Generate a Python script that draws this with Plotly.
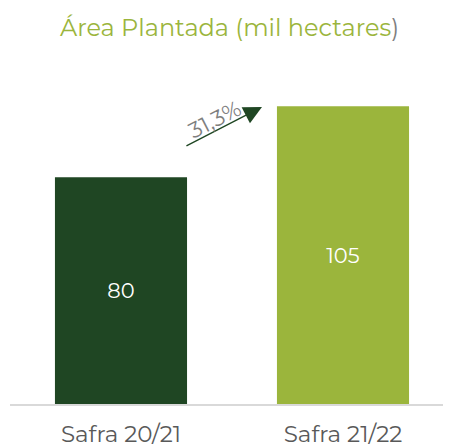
import plotly.graph_objects as go

categories = ["Safra 20/21", "Safra 21/22"]
values = [80, 105]
bar_colors = ["#1f4623", "#9bb53c"]
growth_label = "31,3%"

FONT = "Montserrat, Inter, Lato, sans-serif"

fig = go.Figure()
fig.add_trace(go.Bar(
    x=categories,
    y=values,
    marker=dict(color=bar_colors, line=dict(width=0)),
    text=[str(v) for v in values],
    textposition="inside",
    insidetextanchor="middle",
    textfont=dict(color="white", size=21, family=FONT),
    hoverinfo="skip",
))

# growth arrow between the two bars
fig.add_annotation(
    x=0.635, y=104.8, ax=0.288, ay=90.8,
    xref="x", yref="y", axref="x", ayref="y",
    text="", showarrow=True,
    arrowhead=2, arrowsize=2.6, arrowwidth=1.4, arrowcolor="#1f4623",
)
fig.add_annotation(
    x=0.425, y=100.3, xref="x", yref="y",
    text=growth_label, showarrow=False, textangle=-27,
    font=dict(color="#7f7f7f", size=22, family=FONT),
)

fig.update_layout(
    width=443, height=440,
    margin=dict(l=2, r=0, t=70, b=41),
    paper_bgcolor="white", plot_bgcolor="white",
    bargap=0.405,
    showlegend=False,
    title=dict(
        text='Área Plantada (mil hectares<span style="color:#7f7f7f">)</span>',
        x=0.5, xanchor="center", y=0.955, yanchor="middle",
        font=dict(color="#9bb53c", size=24, family=FONT),
    ),
    xaxis=dict(
        range=[-0.5, 1.4865],
        showline=True, linecolor="#d9d9d9", linewidth=2,
        showgrid=False, ticks="outside", ticklen=8, tickcolor="rgba(0,0,0,0)",
        tickfont=dict(color="#595959", size=23, family=FONT),
    ),
    yaxis=dict(range=[0, 115], visible=False, showgrid=False),
)

fig.write_html("out.html")
